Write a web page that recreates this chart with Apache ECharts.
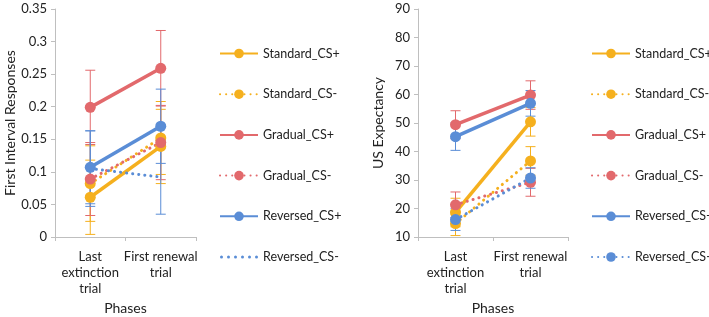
<!DOCTYPE html>
<html><head><meta charset="utf-8">
<script src="https://cdn.jsdelivr.net/npm/echarts@6/dist/echarts.min.js"></script>
<style>html,body{margin:0;padding:0;background:#fff}#c{width:709px;height:317px}</style>
</head><body><div id="c"></div>
<script>
var categories = ['Last\nextinction\ntrial', 'First renewal\ntrial'];
var seriesNames = ['Standard_CS+', 'Standard_CS-', 'Gradual_CS+', 'Gradual_CS-', 'Reversed_CS+', 'Reversed_CS-'];
var seriesColors = ['#F5B01E', '#F5B01E', '#E2696C', '#E2696C', '#5A8DD6', '#5A8DD6'];
var seriesDashed = [false, true, false, true, false, true];

// Left panel: First Interval Responses
var leftStandardCSp = [0.061, 0.139];
var leftStandardCSm = [0.082, 0.152];
var leftGradualCSp  = [0.199, 0.259];
var leftGradualCSm  = [0.089, 0.145];
var leftReversedCSp = [0.107, 0.170];
var leftReversedCSm = [0.105, 0.092];
var leftStandardCSpErr = [0.057, 0.057];
var leftStandardCSmErr = [0.058, 0.056];
var leftGradualCSpErr  = [0.057, 0.058];
var leftGradualCSmErr  = [0.056, 0.057];
var leftReversedCSpErr = [0.056, 0.057];
var leftReversedCSmErr = [0.058, 0.057];
var leftTicks = [0, 0.05, 0.1, 0.15, 0.2, 0.25, 0.3, 0.35];

// Right panel: US Expectancy
var rightStandardCSp = [18.6, 50.4];
var rightStandardCSm = [14.7, 36.7];
var rightGradualCSp  = [49.4, 59.8];
var rightGradualCSm  = [21.3, 29.2];
var rightReversedCSp = [45.2, 56.9];
var rightReversedCSm = [16.1, 30.7];
var rightStandardCSpErr = [5.0, 5.0];
var rightStandardCSmErr = [4.2, 5.0];
var rightGradualCSpErr  = [4.9, 5.0];
var rightGradualCSmErr  = [4.5, 4.9];
var rightReversedCSpErr = [4.8, 4.5];
var rightReversedCSmErr = [3.8, 3.6];
var rightTicks = [10, 20, 30, 40, 50, 60, 70, 80, 90];

var leftVals = [leftStandardCSp, leftStandardCSm, leftGradualCSp, leftGradualCSm, leftReversedCSp, leftReversedCSm];
var leftErrs = [leftStandardCSpErr, leftStandardCSmErr, leftGradualCSpErr, leftGradualCSmErr, leftReversedCSpErr, leftReversedCSmErr];
var rightVals = [rightStandardCSp, rightStandardCSm, rightGradualCSp, rightGradualCSm, rightReversedCSp, rightReversedCSm];
var rightErrs = [rightStandardCSpErr, rightStandardCSmErr, rightGradualCSpErr, rightGradualCSmErr, rightReversedCSpErr, rightReversedCSmErr];

var FONT = 'Lato';
var chart = echarts.init(document.getElementById('c'));
var prefixes = ['L|', 'R|'];

// dotted legend icon (no marker) for the left Reversed_CS- entry
var dotPath = 'path://';
for (var d = 0; d < 6; d++) {
  var cx = 1.5 + 7 * d;
  dotPath += 'M' + (cx - 1.5) + ',1.5a1.5,1.5 0 1,0 3,0a1.5,1.5 0 1,0 -3,0Z';
}

function errSeries(idx, vals, errs, color) {
  var data = vals.map(function (v, i) { return [i, v - errs[i], v + errs[i]]; });
  return {
    type: 'custom', name: 'err' + idx + color, xAxisIndex: idx, yAxisIndex: idx, silent: true, z: 1,
    data: data,
    renderItem: function (params, api) {
      var lo = api.coord([api.value(0), api.value(1)]);
      var hi = api.coord([api.value(0), api.value(2)]);
      var hw = 5;
      var st = { stroke: color, lineWidth: 1 };
      return { type: 'group', children: [
        { type: 'line', shape: { x1: lo[0], y1: lo[1], x2: hi[0], y2: hi[1] }, style: st },
        { type: 'line', shape: { x1: lo[0] - hw, y1: lo[1], x2: lo[0] + hw, y2: lo[1] }, style: st },
        { type: 'line', shape: { x1: hi[0] - hw, y1: hi[1], x2: hi[0] + hw, y2: hi[1] }, style: st }
      ]};
    }
  };
}

function lineSeries(idx, k, vals, noSymbol) {
  var dashed = seriesDashed[k];
  return {
    type: 'line', name: prefixes[idx] + seriesNames[k], xAxisIndex: idx, yAxisIndex: idx, z: 3,
    data: vals, symbol: noSymbol ? 'none' : 'circle', symbolSize: 11, showSymbol: !noSymbol,
    itemStyle: { color: seriesColors[k] },
    lineStyle: dashed ? { width: 3, type: [0.1, 6], cap: 'round', color: seriesColors[k] }
                      : { width: 3.5, color: seriesColors[k] },
    animation: false
  };
}

var series = [];
for (var k = 0; k < 6; k++) series.push(errSeries(0, leftVals[k], leftErrs[k], seriesColors[k]));
for (var k = 0; k < 6; k++) series.push(errSeries(1, rightVals[k], rightErrs[k], seriesColors[k]));
for (var k = 0; k < 6; k++) series.push(lineSeries(0, k, leftVals[k], k === 5));
for (var k = 0; k < 6; k++) series.push(lineSeries(1, k, rightVals[k], false));

function xAxis(idx) {
  return {
    type: 'category', gridIndex: idx, data: categories, boundaryGap: true,
    name: 'Phases', nameLocation: 'middle', nameGap: 64,
    nameTextStyle: { fontFamily: FONT, fontSize: 14, color: '#222' },
    axisLine: { lineStyle: { color: '#BFBFBF' } },
    axisTick: { show: true, length: 4, lineStyle: { color: '#BFBFBF' } },
    axisLabel: { fontFamily: FONT, fontSize: 13, color: '#222', lineHeight: 16, margin: 12, interval: 0 }
  };
}
function yAxis(idx, name, min, max, interval, gap) {
  return {
    type: 'value', gridIndex: idx, min: min, max: max, interval: interval,
    name: name, nameLocation: 'middle', nameGap: gap, nameRotate: 90,
    nameTextStyle: { fontFamily: FONT, fontSize: 14, color: '#222' },
    axisLine: { show: true, lineStyle: { color: '#BFBFBF' } },
    axisTick: { show: true, length: 4, lineStyle: { color: '#BFBFBF' } },
    splitLine: { show: false },
    axisLabel: { fontFamily: FONT, fontSize: 13, color: '#222', margin: 8 }
  };
}
function legend(idx, left) {
  return {
    orient: 'vertical', left: left, top: 47, padding: 0, itemWidth: 38, itemHeight: 12, itemGap: 27.7,
    data: seriesNames.map(function (n, k) {
      var item = { name: prefixes[idx] + n };
      if (idx === 0 && k === 5) { item.icon = dotPath; }
      return item;
    }),
    formatter: function (n) { return n.slice(2); },
    textStyle: { fontFamily: FONT, fontSize: 12.5, color: '#222' },
    selectedMode: false
  };
}

chart.setOption({
  animation: false,
  grid: [
    { left: 55, top: 9, width: 141, height: 228, outerBoundsMode: 'none', containLabel: false },
    { left: 418, top: 9, width: 150, height: 228, outerBoundsMode: 'none', containLabel: false }
  ],
  xAxis: [xAxis(0), xAxis(1)],
  yAxis: [
    yAxis(0, 'First Interval Responses', leftTicks[0], leftTicks[leftTicks.length - 1], leftTicks[1] - leftTicks[0], 37),
    yAxis(1, 'US Expectancy', rightTicks[0], rightTicks[rightTicks.length - 1], rightTicks[1] - rightTicks[0], 33)
  ],
  legend: [legend(0, 219), legend(1, 591)],
  series: series
});
</script></body></html>
